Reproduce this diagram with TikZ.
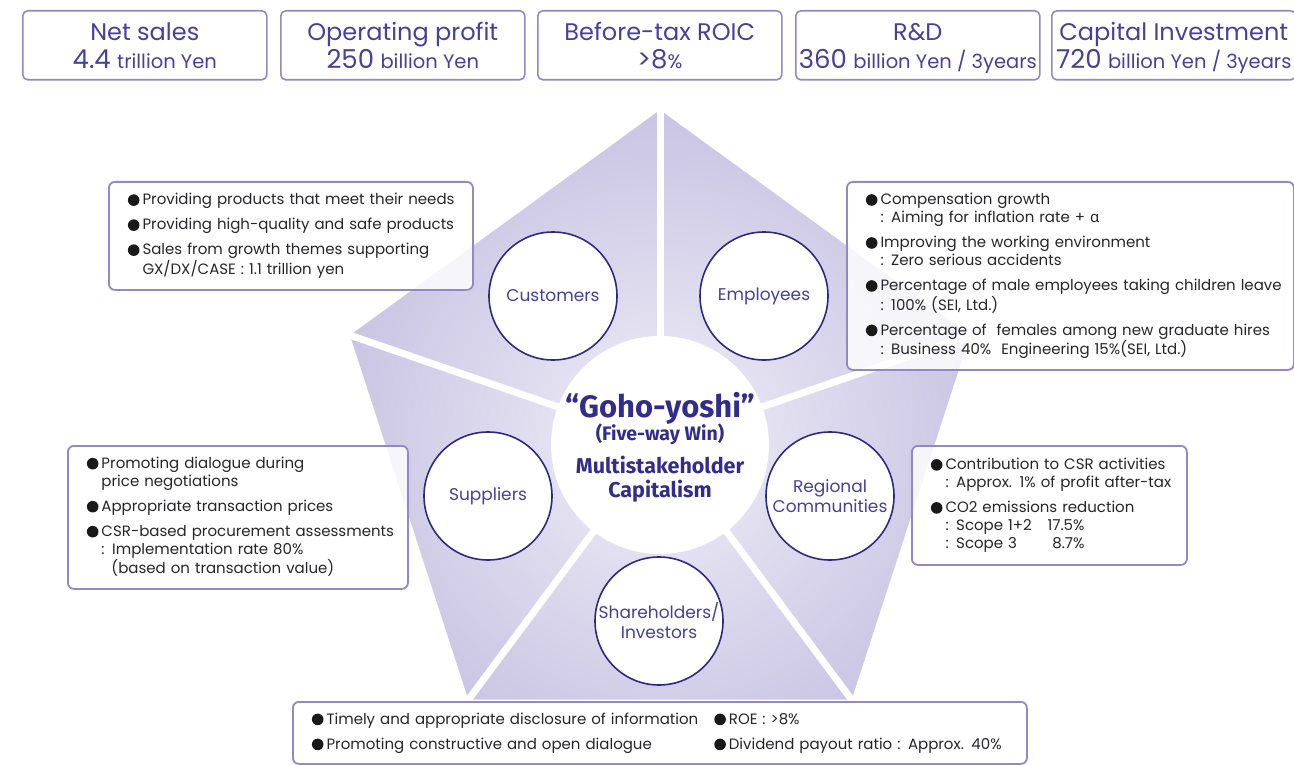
\documentclass[tikz,border=0pt]{standalone}
\usepackage{fontspec}
\setmainfont{Poppins}
\newfontfamily\greekfnt{Noto Sans}
\newfontfamily\headfnt{Fira Sans}
\usepackage{tikz}
\usetikzlibrary{calc,positioning}
\definecolor{goholine}{RGB}{146,136,200}
\definecolor{gohotext}{RGB}{70,64,155}
\definecolor{gohonavy}{RGB}{46,40,128}
\definecolor{gohodark}{RGB}{50,44,140}
\definecolor{petalout}{RGB}{164,157,207}
\definecolor{petalin}{RGB}{240,238,248}
\definecolor{bodytext}{RGB}{38,38,42}
\newcommand{\bul}{\tikz[baseline=0pt]\fill[black!90] (0pt,4.6pt) circle (5.8pt);}
\newcommand{\statsmall}{\fontsize{19.5}{19.5}\selectfont}
\newcommand{\statnum}{\fontsize{26}{26}\selectfont}
% two lines of a target box, first baseline fixed by the rule
\newcommand{\stattext}[2]{\rule{0pt}{19pt}#1\\\raisebox{0pt}[\height][0pt]{#2}}

\begin{document}
\begin{tikzpicture}[x=1pt, y=-1pt,
  statbox/.style={draw=goholine, line width=1.6, rounded corners=5, minimum width=244,
    minimum height=69, anchor=north west, align=center, text=gohotext, inner sep=0,
    font=\fontsize{24}{28}\selectfont},
  infobox/.style={draw=goholine, line width=1.8, rounded corners=6, fill=white,
    fill opacity=0.82, text opacity=1, anchor=north west, align=left, text=bodytext,
    inner xsep=19, inner ysep=0, font=\fontsize{15}{18}\selectfont},
  stake/.style={circle, draw=gohonavy, line width=1.6, fill=white, minimum size=128,
    inner sep=0, align=center, text=gohotext, font=\fontsize{17}{20}\selectfont},
  coreline/.style={anchor=base, text=gohodark, inner sep=0, font=\headfnt\bfseries}]
  \useasboundingbox (0,0) rectangle (1294,765);

  % pentagon corners: regular, centred on (660,436)
  \foreach \i in {0,...,4}{
    \coordinate (P\i) at ({660+326*cos(90+72*\i)},{436-326*sin(90+72*\i)});
  }
  \coordinate (O) at (660,442);
  % shaded body, lighter towards the middle
  \begin{scope}
    \clip (P0) -- (P1) -- (P2) -- (P3) -- (P4) -- cycle;
    \shade[inner color=petalin, outer color=petalout] (O) circle (640);
  \end{scope}
  % white gaps from each corner to the middle
  \foreach \i in {0,...,4}{
    \draw[white, line width=7] (P\i) -- (O);
  }

  % centre
  \node[circle, fill=white, minimum size=218, inner sep=0] (core) at (660,445) {};
  \node[coreline, font=\headfnt\bfseries\fontsize{31}{31}\selectfont] (goho) at (660,417) {“Goho-yoshi”};
  \node[coreline, font=\headfnt\bfseries\fontsize{19.5}{19.5}\selectfont] (fiveway) at (660,440) {(Five-way Win)};
  \node[coreline, font=\headfnt\bfseries\fontsize{21.5}{21.5}\selectfont] (multi) at (660,473) {Multistakeholder};
  \node[coreline, font=\headfnt\bfseries\fontsize{21.5}{21.5}\selectfont] (capit) at (660,497) {Capitalism};

  % stakeholders
  \node[stake] (cust) at (553,296) {Customers};
  \node[stake] (empl) at (764,296) {Employees};
  \node[stake] (supp) at (488,496) {Suppliers};
  \node[stake] (regn) at (830,496) {Regional\\Communities};
  \node[stake] (shar) at (659,621) {Shareholders/\\Investors};

  % targets along the top
  \node[statbox] (sales) at (22,10) {\stattext{Net sales}{{\statnum 4.4} {\statsmall trillion Yen}}};
  \node[statbox] (oper) at (280,10) {\stattext{Operating profit}{{\statnum 250} {\statsmall billion Yen}}};
  \node[statbox] (roic) at (537,10) {\stattext{Before-tax ROIC}{{\statnum >8}{\statsmall \%}}};
  \node[statbox] (rnd) at (795,10) {\stattext{R\&D}{{\statnum 360} {\statsmall billion Yen / 3years}}};
  \node[statbox] (capex) at (1051,10) {\stattext{Capital Investment}{{\statnum 720} {\statsmall billion Yen / 3years}}};

  % notes for each stakeholder
  \node[infobox, text width=326pt, minimum height=108] (custbox) at (108,181) {%
    \begin{tabular}{@{}l@{\hspace{3pt}}l@{}}
      \bul & Providing products that meet their needs\\[7pt]
      \bul & Providing high-quality and safe products\\[7pt]
      \bul & Sales from growth themes supporting\\
           & GX/DX/CASE : 1.1 trillion yen
    \end{tabular}};
  \node[infobox, text width=409pt, minimum height=188] (emplbox) at (846,181) {%
    \begin{tabular}{@{}l@{\hspace{3pt}}l@{}}
      \bul & Compensation growth\\
           & : Aiming for inflation rate + {\greekfnt α}\\[7pt]
      \bul & Improving the working environment\\
           & : Zero serious accidents\\[7pt]
      \bul & Percentage of male employees taking children leave\\
           & : 100\% (SEI, Ltd.)\\[7pt]
      \bul & Percentage of\ \ females among new graduate hires\\
           & : Business 40\%\ \ Engineering 15\%(SEI, Ltd.)
    \end{tabular}};
  \node[infobox, text width=302pt, minimum height=143] (suppbox) at (67,445) {%
    \begin{tabular}{@{}l@{\hspace{3pt}}l@{}}
      \bul & Promoting dialogue during\\
           & price negotiations\\[7pt]
      \bul & Appropriate transaction prices\\[7pt]
      \bul & CSR-based procurement assessments\\
           & : Implementation rate 80\%\\
           & \ \ (based on transaction value)
    \end{tabular}};
  \node[infobox, text width=237pt, minimum height=119] (regnbox) at (911,445) {%
    \begin{tabular}{@{}l@{\hspace{3pt}}l@{}}
      \bul & Contribution to CSR activities\\
           & : Approx. 1\% of profit after-tax\\[7pt]
      \bul & CO2 emissions reduction\\
           & \makebox[88pt][l]{: Scope 1+2}\makebox[51pt][r]{17.5\%}\\
           & \makebox[88pt][l]{: Scope 3}\makebox[51pt][r]{8.7\%}
    \end{tabular}};
  \node[infobox, text width=696pt, minimum height=62] (sharbox) at (292,701) {%
    \begin{tabular}{@{}l@{\hspace{3pt}}l@{\hspace{16pt}}l@{\hspace{3pt}}l@{}}
      \bul & Timely and appropriate disclosure of information & \bul & ROE : >8\%\\[7pt]
      \bul & Promoting constructive and open dialogue & \bul & Dividend payout ratio : Approx. 40\%
    \end{tabular}};
\end{tikzpicture}
\end{document}
